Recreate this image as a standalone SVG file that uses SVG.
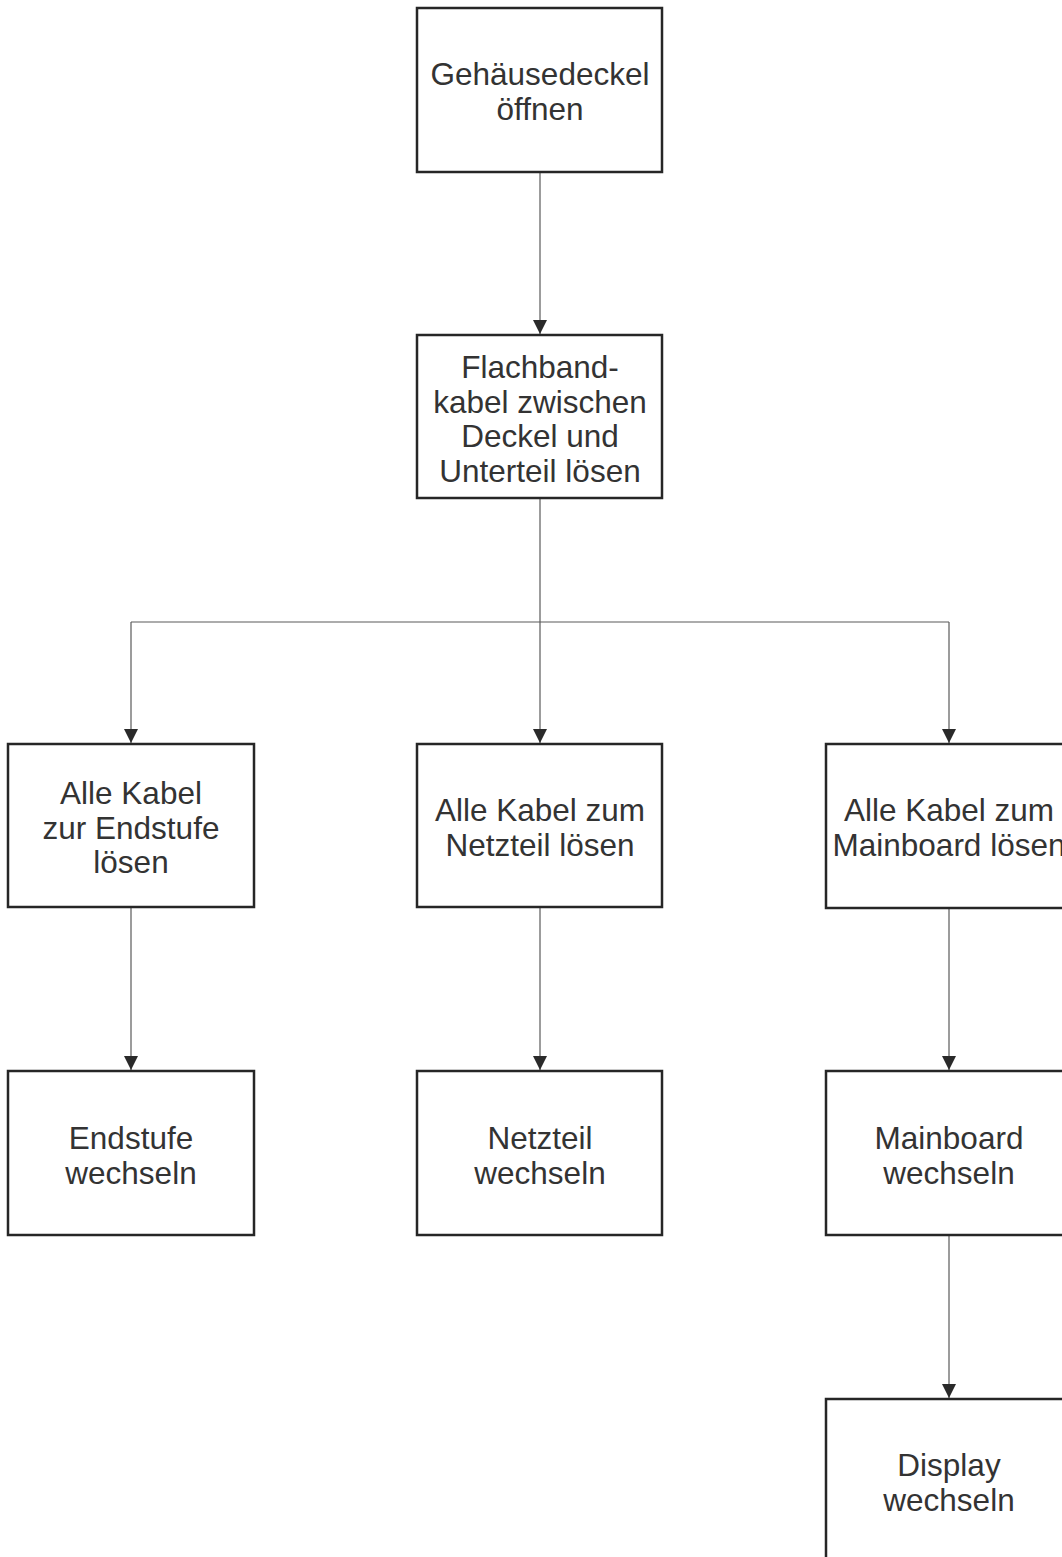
<svg xmlns="http://www.w3.org/2000/svg" width="1062" height="1557" viewBox="0 0 1062 1557">
<defs>
<style>
.box{fill:#fff;stroke:#262626;stroke-width:2.5}
.t{font-family:"Liberation Sans",Arial,sans-serif;font-size:31.5px;fill:#333;text-anchor:middle}
.c{fill:none;stroke:#5a5a5a;stroke-width:1.2}
</style>
<marker id="ah" markerUnits="userSpaceOnUse" markerWidth="14" markerHeight="14" viewBox="0 0 14 14" refX="14" refY="7" orient="auto">
<path d="M0,0 L14,7 L0,14 Z" fill="#2a2a2a"/>
</marker>
</defs>
<rect width="1062" height="1557" fill="#fff"/>
<g id="connectors">
<path class="c" d="M540,172 V334" marker-end="url(#ah)"/>
<path class="c" d="M540,498 V622"/>
<path class="c" d="M131,622 H949"/>
<path class="c" d="M131,622 V743" marker-end="url(#ah)"/>
<path class="c" d="M540,622 V743" marker-end="url(#ah)"/>
<path class="c" d="M949,622 V743" marker-end="url(#ah)"/>
<path class="c" d="M131,907 V1070" marker-end="url(#ah)"/>
<path class="c" d="M540,907 V1070" marker-end="url(#ah)"/>
<path class="c" d="M949,907 V1070" marker-end="url(#ah)"/>
<path class="c" d="M949,1235 V1398" marker-end="url(#ah)"/>
</g>
<g id="n1"><rect class="box" x="417" y="8" width="245" height="164"/>
<text class="t" x="540" y="85">Gehäusedeckel</text><text class="t" x="540" y="119.5">öffnen</text></g>
<g id="n2"><rect class="box" x="417" y="335" width="245" height="163"/>
<text class="t" x="540" y="378">Flachband-</text><text class="t" x="540" y="412.5">kabel zwischen</text><text class="t" x="540" y="447">Deckel und</text><text class="t" x="540" y="481.5">Unterteil lösen</text></g>
<g id="n3"><rect class="box" x="8" y="744" width="246" height="163"/>
<text class="t" x="131" y="804">Alle Kabel</text><text class="t" x="131" y="838.5">zur Endstufe</text><text class="t" x="131" y="873">lösen</text></g>
<g id="n4"><rect class="box" x="417" y="744" width="245" height="163"/>
<text class="t" x="540" y="821">Alle Kabel zum</text><text class="t" x="540" y="855.5">Netzteil lösen</text></g>
<g id="n5"><rect class="box" x="826" y="744" width="246" height="164"/>
<text class="t" x="949" y="821">Alle Kabel zum</text><text class="t" x="949" y="855.5">Mainboard lösen</text></g>
<g id="n6"><rect class="box" x="8" y="1071" width="246" height="164"/>
<text class="t" x="131" y="1149">Endstufe</text><text class="t" x="131" y="1183.5">wechseln</text></g>
<g id="n7"><rect class="box" x="417" y="1071" width="245" height="164"/>
<text class="t" x="540" y="1149">Netzteil</text><text class="t" x="540" y="1183.5">wechseln</text></g>
<g id="n8"><rect class="box" x="826" y="1071" width="246" height="164"/>
<text class="t" x="949" y="1149">Mainboard</text><text class="t" x="949" y="1183.5">wechseln</text></g>
<g id="n9"><rect class="box" x="826" y="1399" width="246" height="164"/>
<text class="t" x="949" y="1476">Display</text><text class="t" x="949" y="1510.5">wechseln</text></g>
</svg>
